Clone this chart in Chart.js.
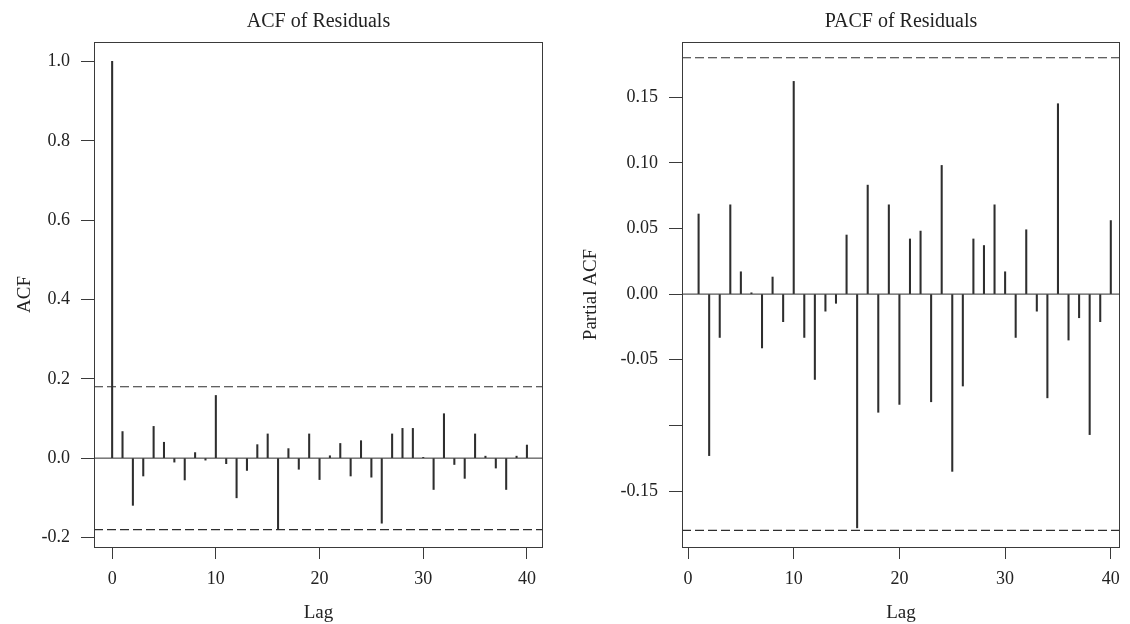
<!DOCTYPE html>
<html>
<head>
<meta charset="utf-8">
<script src="https://cdn.jsdelivr.net/npm/chart.js@4.4.1/dist/chart.umd.min.js"></script>
<style>
  body { margin: 0; background: #fff; }
  #wrap { position: relative; width: 1130px; height: 624px; }
  canvas { position: absolute; top: 0; }
  #acf { left: 0; }
  #pacf { left: 565px; }
</style>
</head>
<body>
<div id="wrap">
  <canvas id="acf" width="565" height="624"></canvas>
  <canvas id="pacf" width="565" height="624"></canvas>
</div>
<script>
// lags and values
const acfLags = [0, 1, 2, 3, 4, 5, 6, 7, 8, 9, 10, 11, 12, 13, 14, 15, 16, 17, 18, 19, 20,
  21, 22, 23, 24, 25, 26, 27, 28, 29, 30, 31, 32, 33, 34, 35, 36, 37, 38, 39, 40];
const acfValues = [1.0, 0.067, -0.119, -0.045, 0.080, 0.040, -0.010, -0.055, 0.014, -0.005, 0.158,
  -0.014, -0.100, -0.031, 0.034, 0.061, -0.178, 0.024, -0.028, 0.061, -0.054,
  0.006, 0.037, -0.045, 0.044, -0.048, -0.164, 0.061, 0.075, 0.075, 0.002,
  -0.079, 0.112, -0.016, -0.051, 0.061, 0.005, -0.025, -0.079, 0.005, 0.033];

const pacfLags = [1, 2, 3, 4, 5, 6, 7, 8, 9, 10, 11, 12, 13, 14, 15, 16, 17, 18, 19, 20,
  21, 22, 23, 24, 25, 26, 27, 28, 29, 30, 31, 32, 33, 34, 35, 36, 37, 38, 39, 40];
const pacfValues = [0.061, -0.123, -0.033, 0.068, 0.017, 0.001, -0.041, 0.013, -0.021, 0.162,
  -0.033, -0.065, -0.013, -0.007, 0.045, -0.178, 0.083, -0.090, 0.068, -0.084,
  0.042, 0.048, -0.082, 0.098, -0.135, -0.070, 0.042, 0.037, 0.068, 0.017,
  -0.033, 0.049, -0.013, -0.079, 0.145, -0.035, -0.018, -0.107, -0.021, 0.056];

const confLimit = 0.18;

const lagTicks = [0, 10, 20, 30, 40];
const acfYTicks = [-0.2, 0.0, 0.2, 0.4, 0.6, 0.8, 1.0];
const acfYLabels = ["-0.2", "0.0", "0.2", "0.4", "0.6", "0.8", "1.0"];
const pacfYTicks = [-0.15, -0.10, -0.05, 0.00, 0.05, 0.10, 0.15];
const pacfYLabels = ["-0.15", "", "-0.05", "0.00", "0.05", "0.10", "0.15"];

const serif = "'Liberation Serif', 'DejaVu Serif', serif";
const ink = "#222";
const lineInk = "#2e2e2e";

// draws the box round the plot area
const framePlugin = {
  id: "frame",
  afterDraw(chart) {
    const a = chart.chartArea;
    const ctx = chart.ctx;
    ctx.save();
    ctx.strokeStyle = "#3a3a3a";
    ctx.lineWidth = 1;
    ctx.strokeRect(Math.round(a.left) + 0.5, Math.round(a.top) + 0.5,
      Math.round(a.right - a.left) - 1, Math.round(a.bottom - a.top));
    ctx.restore();
  }
};

function hline(y, x0, x1, dashed) {
  return {
    type: "line",
    data: [{ x: x0, y: y }, { x: x1, y: y }],
    borderColor: lineInk,
    borderWidth: dashed ? 1.2 : 1,
    borderDash: dashed ? [9, 4] : [],
    pointRadius: 0,
    fill: false,
  };
}

function makeChart(id, cfg) {
  const ctx = document.getElementById(id).getContext("2d");
  return new Chart(ctx, {
    type: "bar",
    data: {
      datasets: [
        hline(0, cfg.xMin, cfg.xMax, false),
        hline(confLimit, cfg.xMin, cfg.xMax, true),
        hline(-confLimit, cfg.xMin, cfg.xMax, true),
        {
          type: "bar",
          data: cfg.lags.map((l, i) => ({ x: l, y: cfg.values[i] })),
          backgroundColor: lineInk,
          borderWidth: 0,
          barThickness: 1.4,
        },
      ],
    },
    options: {
      responsive: false,
      animation: false,
      devicePixelRatio: 1,
      layout: { padding: { left: 0, right: cfg.padRight, top: 0, bottom: 0 } },
      plugins: {
        legend: { display: false },
        tooltip: { enabled: false },
        title: {
          display: true,
          text: cfg.title,
          fullSize: false,
          color: ink,
          font: { family: serif, size: 20, weight: "normal" },
          padding: { top: 10, bottom: 8 },
        },
      },
      scales: {
        x: {
          type: "linear",
          min: cfg.xMin,
          max: cfg.xMax,
          offset: false,
          afterBuildTicks: (s) => { s.ticks = lagTicks.map((v) => ({ value: v })); },
          afterFit: (s) => { s.height = 77; },
          ticks: {
            color: ink,
            font: { family: serif, size: 18 },
            padding: 9,
            maxRotation: 0,
            autoSkip: false,
            callback: (v) => String(v),
          },
          grid: { drawOnChartArea: false, offset: false, tickLength: 12, color: "#3a3a3a" },
          border: { display: false },
          title: {
            display: true,
            text: "Lag",
            color: ink,
            font: { family: serif, size: 19 },
            padding: { top: 0, bottom: 0 },
          },
        },
        y: {
          min: cfg.yMin,
          max: cfg.yMax,
          afterBuildTicks: (s) => { s.ticks = cfg.yTicks.map((v) => ({ value: v })); },
          afterFit: (s) => { s.width = cfg.yWidth; },
          ticks: {
            color: ink,
            font: { family: serif, size: 18 },
            padding: 11,
            callback: (v, i) => cfg.yLabels[i],
          },
          grid: { drawOnChartArea: false, tickLength: 13, color: "#3a3a3a" },
          border: { display: false },
          title: {
            display: true,
            text: cfg.yTitle,
            color: ink,
            font: { family: serif, size: 19 },
            padding: { top: cfg.yTitlePad, bottom: 0 },
          },
        },
      },
    },
    plugins: [framePlugin],
  });
}

makeChart("acf", {
  title: "ACF of Residuals",
  yTitle: "ACF",
  lags: acfLags,
  values: acfValues,
  xMin: -1.75,
  xMax: 41.55,
  yMin: -0.224,
  yMax: 1.049,
  yTicks: acfYTicks,
  yLabels: acfYLabels,
  yWidth: 94,
  yTitlePad: 14,
  padRight: 22,
});

makeChart("pacf", {
  title: "PACF of Residuals",
  yTitle: "Partial ACF",
  lags: pacfLags,
  values: pacfValues,
  xMin: -0.57,
  xMax: 40.87,
  yMin: -0.1926,
  yMax: 0.192,
  yTicks: pacfYTicks,
  yLabels: pacfYLabels,
  yWidth: 117,
  yTitlePad: 15,
  padRight: 10,
});
</script>
</body>
</html>
